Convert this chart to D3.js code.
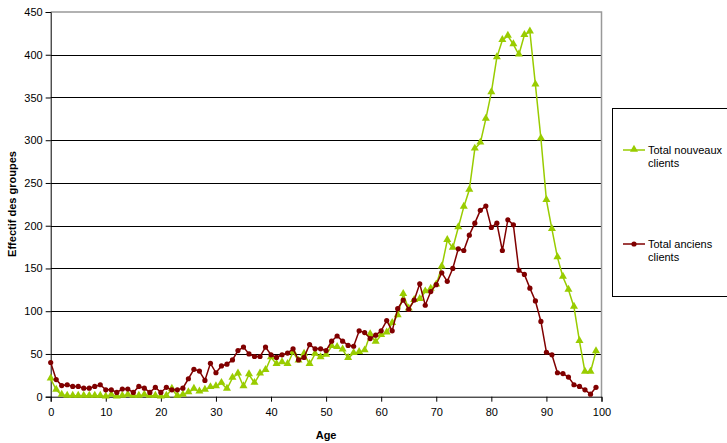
<!DOCTYPE html>
<html><head><meta charset="utf-8">
<script src="https://cdn.jsdelivr.net/npm/d3@7"></script>
<style>body{margin:0;background:#fff;}svg{display:block;font-family:"Liberation Sans",Arial,sans-serif;}</style>
</head><body><svg id="c" width="727" height="443"></svg>
<script>
const ages = d3.range(0, 100);
const nouveaux = [21,8,2,1,1,1,1,1,1,1,0,2,0,1,2,1,1,2,1,1,0,1,9,1,2,5,9,6,8,11,12,16,9,22,27,12,26,16,27,31,46,38,40,38,52,42,50,38,50,46,49,59,58,55,45,51,52,54,73,64,72,75,86,95,120,103,113,114,123,126,131,152,183,174,198,222,242,290,297,325,356,397,417,422,412,400,423,427,365,302,230,196,163,140,125,105,65,29,29,53];
const anciens = [40,20,13,14,12,12,10,10,12,14,8,8,5,9,9,5,12,10,5,11,5,11,8,8,10,21,32,30,19,39,28,36,38,43,54,58,50,47,47,58,49,46,49,51,56,43,46,61,56,56,54,65,71,65,60,59,77,75,68,72,77,89,77,103,113,102,113,132,107,123,131,145,135,150,173,171,189,203,218,223,198,203,171,207,201,148,143,127,112,88,52,49,28,27,23,14,12,8,3,11];
const xTicks = [0,10,20,30,40,50,60,70,80,90,100];
const yTicks = [0,50,100,150,200,250,300,350,400,450];
const seriesNames = ["Total nouveaux clients","Total anciens clients"];
const colors = ["#99CC00","#800000"];

const svg = d3.select("#c");
const x = d3.scaleLinear().domain([0,100]).range([50.7,601.5]);
const y = d3.scaleLinear().domain([0,450]).range([396.7,12]);

// gridlines
svg.append("g").selectAll("line").data(yTicks.filter(d=>d>0 && d<450)).join("line")
  .attr("x1",x(0)).attr("x2",x(100)).attr("y1",d=>Math.round(y(d))+0.5).attr("y2",d=>Math.round(y(d))+0.5)
  .attr("stroke","#000").attr("stroke-width",1);
// plot border top/right (gray)
svg.append("path").attr("d",`M${x(0)},${y(450)}H${x(100)}V${y(0)}`)
  .attr("fill","none").attr("stroke","#999").attr("stroke-width",1.5);

// axes
const yAxis = d3.axisLeft(y).tickValues(yTicks).tickSize(5).tickPadding(3);
const gy = svg.append("g").attr("transform",`translate(${x(0)},0)`).call(yAxis);
const xAxis = d3.axisBottom(x).tickValues(xTicks).tickSize(5).tickPadding(7);
const gx = svg.append("g").attr("transform",`translate(0,${y(0)})`).call(xAxis);
[gy,gx].forEach(g=>{
  g.selectAll("path.domain").attr("stroke","#000").attr("stroke-width",1);
  g.selectAll(".tick line").attr("stroke","#000");
  g.selectAll("text").attr("font-family","Liberation Sans, Arial, sans-serif").attr("font-size",11).attr("fill","#000");
});

// titles
svg.append("text").attr("x",(x(0)+x(100))/2).attr("y",439).attr("text-anchor","middle")
  .attr("font-size",11).attr("font-weight","bold").text("Age");
svg.append("text").attr("transform","translate(16,204) rotate(-90)").attr("text-anchor","middle")
  .attr("font-size",11).attr("font-weight","bold").text("Effectif des groupes");

const line = d3.line().x((d,i)=>x(ages[i])).y(d=>y(d));
const tri = d3.symbol().type(d3.symbolTriangle).size(28);

// series 1 : nouveaux
const g1 = svg.append("g");
g1.append("path").datum(nouveaux).attr("d",line).attr("fill","none").attr("stroke",colors[0]).attr("stroke-width",1.5);
g1.selectAll("path.m").data(nouveaux).join("path").attr("class","m")
  .attr("d",tri).attr("transform",(d,i)=>`translate(${x(ages[i])},${y(d)-0.5})`).attr("fill",colors[0]);

// series 2 : anciens
const g2 = svg.append("g");
g2.append("path").datum(anciens).attr("d",line).attr("fill","none").attr("stroke",colors[1]).attr("stroke-width",1.5);
g2.selectAll("circle").data(anciens).join("circle")
  .attr("cx",(d,i)=>x(ages[i])).attr("cy",d=>y(d)).attr("r",2.6).attr("fill",colors[1]);

// legend
svg.append("rect").attr("x",612.5).attr("y",108.5).attr("width",130).attr("height",188)
  .attr("fill","#fff").attr("stroke","#000").attr("stroke-width",1);
const leg = [{y:150, lines:["Total nouveaux","clients"]},{y:244, lines:["Total anciens","clients"]}];
leg.forEach((l,k)=>{
  svg.append("line").attr("x1",623).attr("x2",645).attr("y1",l.y).attr("y2",l.y)
    .attr("stroke",colors[k]).attr("stroke-width",1.5);
  if(k===0) svg.append("path").attr("d",tri).attr("transform",`translate(634,${l.y-0.5})`).attr("fill",colors[0]);
  else svg.append("circle").attr("cx",634).attr("cy",l.y).attr("r",2.6).attr("fill",colors[1]);
  l.lines.forEach((t,j)=>{
    svg.append("text").attr("x",648).attr("y",l.y+4+j*13).attr("font-size",11).text(t);
  });
});
</script></body></html>
